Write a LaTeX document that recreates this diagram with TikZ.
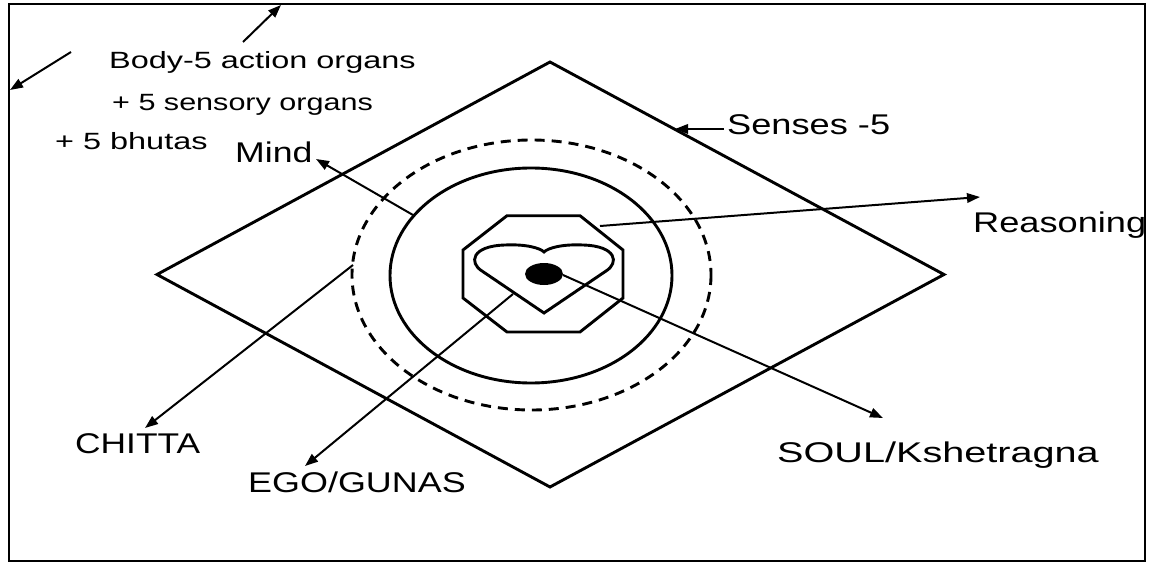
\documentclass[tikz,border=0pt]{standalone}
\usepackage{fontspec}
\setmainfont{Liberation Sans}
\usetikzlibrary{arrows.meta}
\tikzset{
  shapeline/.style={line width=2.9pt, line join=miter},
  arr/.style={line width=2pt, -{Triangle[length=13pt,width=9.5pt]}},
  lbl/.style={inner sep=0pt, anchor=base west},
  bigfont/.style={font=\fontsize{28.5}{30}\selectfont},
  smallfont/.style={font=\fontsize{23.5}{26}\selectfont}
}
\begin{document}
\begin{tikzpicture}[x=1pt,y=-1pt]
\useasboundingbox (0,0) rectangle (1150,564);
% frame
\draw[line width=2.5pt] (9,4) rectangle (1145,561);
% diamond
\draw[shapeline] (550,62) -- (944,274.5) -- (550,487) -- (157,274.5) -- cycle;
% ellipses
\draw[line width=2.9pt, dash pattern=on 10pt off 7pt] (531.5,275) ellipse [x radius=179.5, y radius=135];
\draw[shapeline] (531,275.5) ellipse [x radius=141, y radius=107.5];
% octagon
\draw[shapeline] (507,215.7) -- (580,215.7) -- (623,250) -- (623,298) -- (580,332) -- (507,332) -- (463,298) -- (463,250) -- cycle;
% heart
\draw[shapeline] (544,313) -- (482,271) .. controls (469,263) and (471,246) .. (505,245) .. controls (526,244) and (540,248) .. (544,252) .. controls (548,248) and (562,244) .. (583,245) .. controls (617,246) and (619,263) .. (606,271) -- cycle;
% soul dot
\fill (544,274) ellipse [x radius=19, y radius=11];

% labels
\node[lbl,smallfont] (body) at (109,68.3) {\scalebox{1.38}[1]{Body-5 action organs}};
\node[lbl,smallfont] (sens) at (112,111) {\scalebox{1.30}[1]{+ 5 sensory organs}};
\node[lbl,smallfont] (bhut) at (55,150) {\scalebox{1.38}[1]{+ 5 bhutas}};
\node[lbl,bigfont] (mind) at (235,163) {\scalebox{1.25}[1]{Mind}};
\node[lbl,bigfont] (senses) at (727,135) {\scalebox{1.27}[1]{Senses -5}};
\node[lbl,bigfont] (reas) at (973,232) {\scalebox{1.27}[1]{Reasoning}};
\node[lbl,bigfont] (chitta) at (75,453) {\scalebox{1.24}[1]{CHITTA}};
\node[lbl,bigfont] (ego) at (248,492) {\scalebox{1.26}[1]{EGO/GUNAS}};
\node[lbl,bigfont] (soul) at (777,462) {\scalebox{1.39}[1]{SOUL/Kshetragna}};

% arrow end coordinates
\coordinate (topA) at (243,42);
\coordinate (topB) at (281,5);
\coordinate (leftA) at (71,52);
\coordinate (leftB) at (10,90);
\coordinate (mindA) at (413,215);
\coordinate (mindB) at (316,159);
\coordinate (sensA) at (724,129);
\coordinate (sensB) at (675,129);
\coordinate (reasA) at (600,226);
\coordinate (reasB) at (980,197);
\coordinate (soulA) at (563,275);
\coordinate (soulB) at (883,418);
\coordinate (egoA) at (513,294);
\coordinate (egoB) at (305,466);
\coordinate (chitA) at (353,265);
\coordinate (chitB) at (145,428);

\draw[arr] (topA) -- (topB);
\draw[arr] (leftA) -- (leftB);
\draw[arr] (mindA) -- (mindB);
\draw[arr] (sensA) -- (sensB);
\draw[arr] (reasA) -- (reasB);
\draw[arr] (soulA) -- (soulB);
\draw[arr] (egoA) -- (egoB);
\draw[arr] (chitA) -- (chitB);
\end{tikzpicture}
\end{document}
